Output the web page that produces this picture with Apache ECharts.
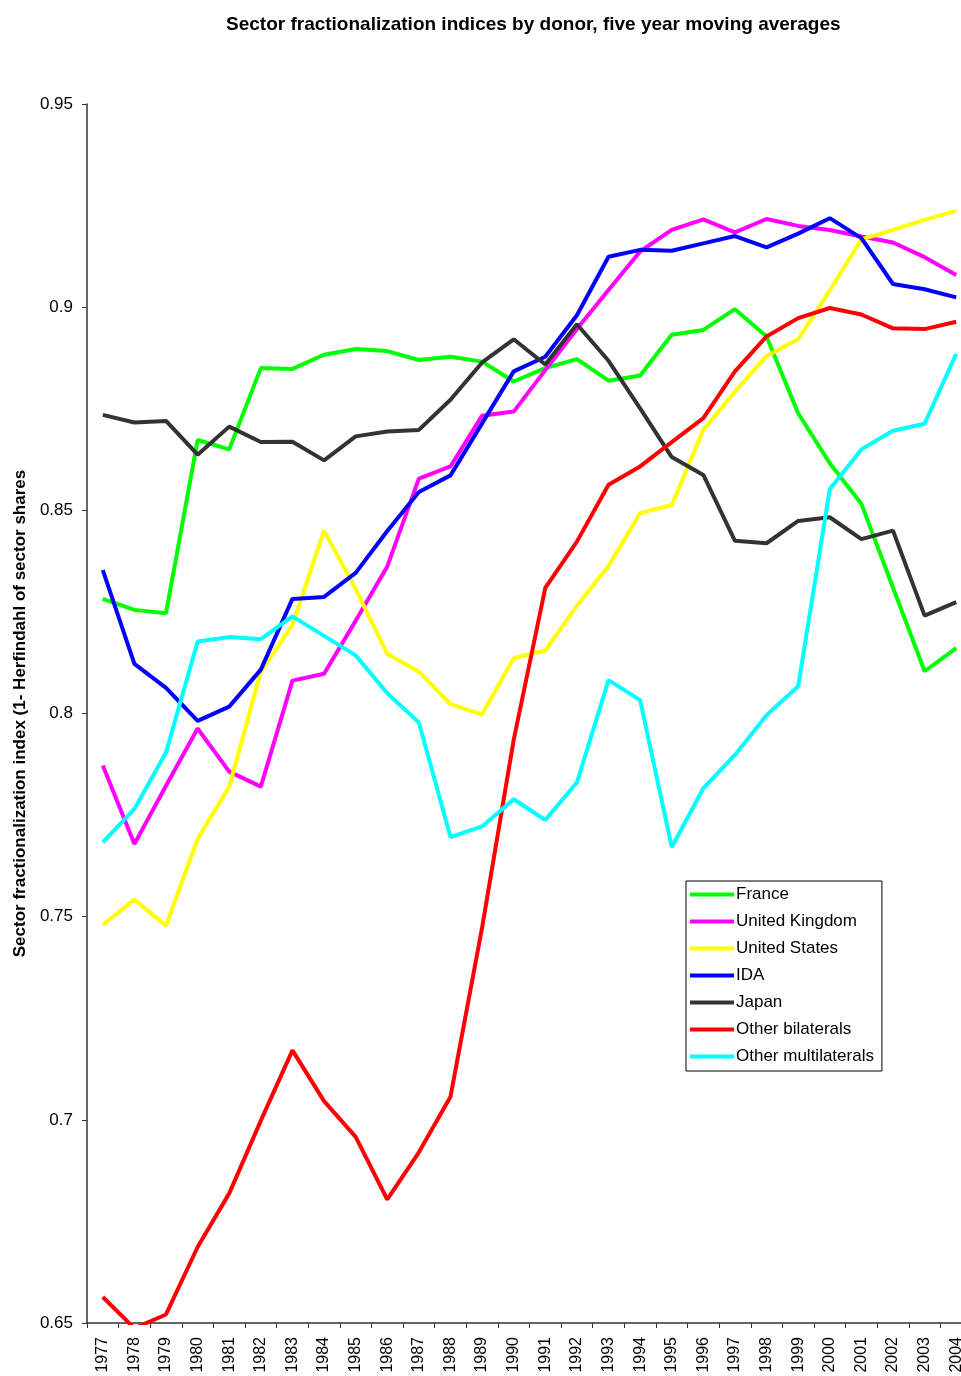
<!DOCTYPE html>
<html>
<head>
<meta charset="utf-8">
<script src="https://cdn.jsdelivr.net/npm/echarts@6/dist/echarts.min.js"></script>
<style>html,body{margin:0;padding:0;background:#fff;overflow:hidden}#c{width:961px;height:1376px}</style>
</head>
<body>
<div id="c"></div>
<script>
const years = ['1977','1978','1979','1980','1981','1982','1983','1984','1985','1986','1987','1988','1989','1990','1991','1992','1993','1994','1995','1996','1997','1998','1999','2000','2001','2002','2003','2004'];
const france = [0.8282,0.8255,0.8247,0.8673,0.8650,0.8850,0.8848,0.8883,0.8897,0.8892,0.8870,0.8878,0.8866,0.8817,0.8850,0.8872,0.8819,0.8832,0.8932,0.8944,0.8995,0.8928,0.8739,0.8616,0.8516,0.8310,0.8104,0.8161];
const uk = [0.7872,0.7679,0.7822,0.7963,0.7857,0.7820,0.8081,0.8098,0.8228,0.8362,0.8578,0.8608,0.8733,0.8743,0.8845,0.8946,0.9042,0.9137,0.9190,0.9216,0.9184,0.9217,0.9200,0.9190,0.9174,0.9159,0.9123,0.9079];
const us = [0.7480,0.7542,0.7478,0.7691,0.7820,0.8103,0.8218,0.8450,0.8306,0.8147,0.8103,0.8023,0.7998,0.8136,0.8155,0.8265,0.8363,0.8493,0.8513,0.8698,0.8792,0.8880,0.8921,0.9041,0.9167,0.9190,0.9215,0.9237];
const ida = [0.8353,0.8122,0.8063,0.7982,0.8017,0.8108,0.8282,0.8287,0.8346,0.8449,0.8545,0.8586,0.8714,0.8842,0.8878,0.8980,0.9124,0.9141,0.9139,0.9157,0.9175,0.9147,0.9181,0.9219,0.9170,0.9057,0.9044,0.9024];
const japan = [0.8735,0.8716,0.8720,0.8637,0.8706,0.8668,0.8669,0.8623,0.8682,0.8694,0.8698,0.8772,0.8864,0.8921,0.8859,0.8958,0.8868,0.8751,0.8631,0.8587,0.8425,0.8419,0.8474,0.8483,0.8429,0.8450,0.8241,0.8274];
const otherBilaterals = [0.6564,0.6487,0.6521,0.6687,0.6819,0.6998,0.7171,0.7046,0.6958,0.6804,0.6920,0.7057,0.7473,0.7935,0.8309,0.8423,0.8563,0.8608,0.8668,0.8727,0.8842,0.8928,0.8973,0.8998,0.8982,0.8948,0.8946,0.8964];
const otherMultilaterals = [0.7683,0.7765,0.7904,0.8177,0.8188,0.8183,0.8239,0.8191,0.8143,0.8050,0.7978,0.7696,0.7722,0.7789,0.7738,0.7830,0.8082,0.8033,0.7671,0.7816,0.7898,0.7996,0.8067,0.8552,0.8650,0.8696,0.8713,0.8885];
const yTicks = [0.65,0.7,0.75,0.8,0.85,0.9,0.95];

const seriesDefs = [
  ['France', france, '#00FF00'],
  ['United Kingdom', uk, '#FF00FF'],
  ['United States', us, '#FFFF00'],
  ['IDA', ida, '#0000FF'],
  ['Japan', japan, '#333333'],
  ['Other bilaterals', otherBilaterals, '#FF0000'],
  ['Other multilaterals', otherMultilaterals, '#00FFFF']
];

const chart = echarts.init(document.getElementById('c'), null, {renderer:'canvas'});
const font = '"Liberation Sans", Arial, sans-serif';
chart.setOption({
  animation: false,
  backgroundColor: '#fff',
  textStyle: {fontFamily: font},
  title: {
    text: 'Sector fractionalization indices by donor, five year moving averages',
    left: 221, top: 10,
    textStyle: {fontFamily: font, fontSize: 19, fontWeight: 'bold', color: '#000'}
  },
  grid: {left: 87, width: 885, top: 104, bottom: 53, containLabel: false, outerBoundsMode: 'none'},
  xAxis: {
    type: 'category',
    data: years,
    boundaryGap: true,
    axisLine: {lineStyle: {color: '#333', width: 1.5}},
    axisTick: {show: true, interval: 0, length: 5, lineStyle: {color: '#333'}},
    axisLabel: {interval: 0, rotate: 90, fontSize: 16, color: '#000', fontFamily: font, margin: 14}
  },
  yAxis: {
    type: 'value',
    min: 0.65, max: 0.95, interval: 0.05,
    name: 'Sector fractionalization index (1- Herfindahl of sector shares',
    nameLocation: 'middle',
    nameGap: 58,
    nameTextStyle: {fontFamily: font, fontSize: 17, fontWeight: 'bold', color: '#000'},
    splitLine: {show: false},
    axisLine: {show: true, lineStyle: {color: '#333', width: 1.5}},
    axisTick: {show: true, length: 5, lineStyle: {color: '#333'}},
    axisLabel: {fontSize: 17, color: '#000', fontFamily: font, margin: 14,
      formatter: v => { const t = yTicks.find(x => Math.abs(x - v) < 1e-9); return String(+(t ?? v).toFixed(2)); }}
  },
  legend: {
    orient: 'vertical',
    left: 686, top: 881,
    backgroundColor: '#fff',
    borderColor: '#000', borderWidth: 1,
    padding: [5, 8, 6, 4],
    itemGap: 10,
    itemWidth: 44, itemHeight: 4,
    icon: 'rect',
    textStyle: {fontFamily: font, fontSize: 17, color: '#000', padding: [0,0,0,-3]},
    data: seriesDefs.map(s => s[0])
  },
  series: seriesDefs.map(([name, data, color]) => ({
    name, type: 'line', data,
    showSymbol: false, symbol: 'none',
    clip: true,
    lineStyle: {color, width: 4},
    itemStyle: {color}
  }))
});
</script>
</body>
</html>
